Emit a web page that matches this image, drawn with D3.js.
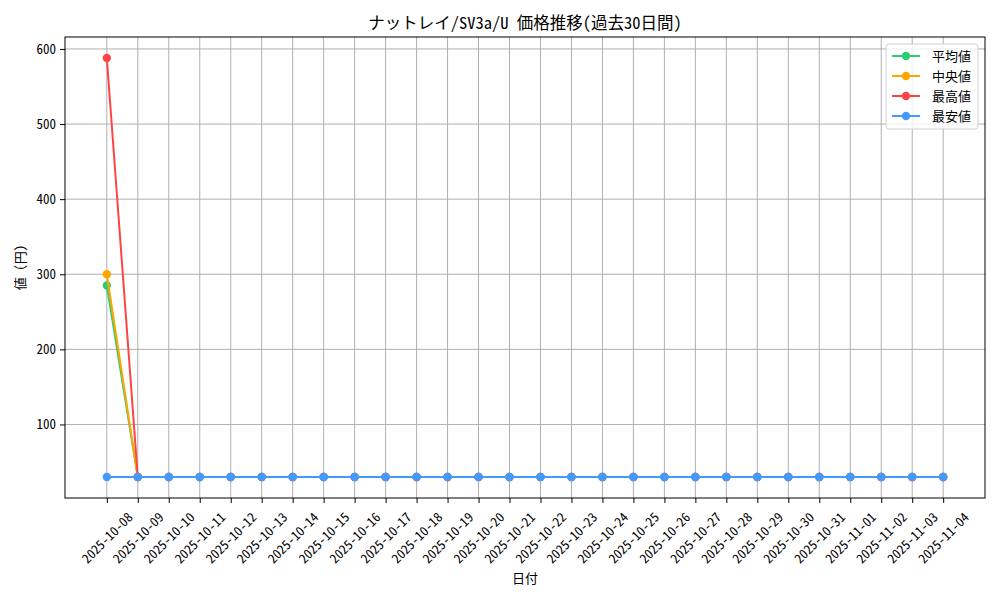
<!DOCTYPE html>
<html>
<head>
<meta charset="utf-8">
<script src="https://cdn.jsdelivr.net/npm/d3@7"></script>
<style>
  body { margin: 0; background: #fff; }
  text { font-family: "Noto Sans Mono CJK JP", "Noto Sans CJK JP", "DejaVu Sans", sans-serif; fill: #000; }
</style>
</head>
<body>
<svg width="1000" height="600"></svg>
<script>
const svg = d3.select("svg");

const dates = [
  "2025-10-08", "2025-10-09", "2025-10-10", "2025-10-11", "2025-10-12",
  "2025-10-13", "2025-10-14", "2025-10-15", "2025-10-16", "2025-10-17",
  "2025-10-18", "2025-10-19", "2025-10-20", "2025-10-21", "2025-10-22",
  "2025-10-23", "2025-10-24", "2025-10-25", "2025-10-26", "2025-10-27",
  "2025-10-28", "2025-10-29", "2025-10-30", "2025-10-31", "2025-11-01",
  "2025-11-02", "2025-11-03", "2025-11-04"
];

const rest = dates.slice(1).map(() => 30);
const avgValues = [285].concat(rest);
const medianValues = [300].concat(rest);
const maxValues = [588].concat(rest);
const minValues = [30].concat(rest);

const yTicks = [100, 200, 300, 400, 500, 600];

const series = [
  { name: "平均値", values: avgValues, color: "#2ecc71" },
  { name: "中央値", values: medianValues, color: "#ffa500" },
  { name: "最高値", values: maxValues, color: "#ff4444" },
  { name: "最安値", values: minValues, color: "#4499ff" }
];

const m = { left: 65, right: 985, top: 37, bottom: 498 };

// categorical x with matplotlib-like 5% margins
const n = dates.length;
const pad = (n - 1) * 0.05;
const x = d3.scaleLinear().domain([-pad, n - 1 + pad]).range([m.left, m.right]);

const all = series.flatMap(s => s.values);
const yMin = d3.min(all), yMax = d3.max(all);
const ypad = (yMax - yMin) * 0.05;
const y = d3.scaleLinear().domain([yMin - ypad, yMax + ypad]).range([m.bottom, m.top]);

// grid
const grid = svg.append("g").attr("stroke", "#b0b0b0").attr("stroke-width", 1);
grid.selectAll("line.vx")
  .data(dates)
  .enter()
  .append("line")
  .attr("x1", (d, i) => x(i)).attr("x2", (d, i) => x(i))
  .attr("y1", m.top).attr("y2", m.bottom);
grid.selectAll("line.hy")
  .data(yTicks)
  .enter()
  .append("line")
  .attr("x1", m.left).attr("x2", m.right)
  .attr("y1", d => y(d)).attr("y2", d => y(d));

// axes
const xAxis = svg.append("g")
  .attr("transform", `translate(0,${m.bottom})`)
  .call(d3.axisBottom(x).tickValues(d3.range(n)).tickFormat(i => dates[i]).tickSize(5).tickPadding(3));
xAxis.select(".domain").remove();
xAxis.selectAll("text")
  .attr("font-size", 13)
  .attr("text-anchor", "middle")
  .attr("y", 0)
  .attr("dy", "0.35em")
  .attr("transform", "translate(0,40) rotate(-45)");

const yAxis = svg.append("g")
  .attr("transform", `translate(${m.left},0)`)
  .call(d3.axisLeft(y).tickValues(yTicks).tickSize(5).tickPadding(4));
yAxis.select(".domain").remove();
yAxis.selectAll("text").attr("font-size", 13);
svg.selectAll(".tick line").attr("stroke", "#000");

// lines and markers
const line = d3.line().x((d, i) => x(i)).y(d => y(d));
const sg = svg.selectAll("g.series")
  .data(series)
  .enter()
  .append("g")
  .attr("class", "series");
sg.append("path")
  .attr("d", d => line(d.values))
  .attr("fill", "none")
  .attr("stroke", d => d.color)
  .attr("stroke-width", 2);
sg.selectAll("circle")
  .data(d => d.values.map(v => ({ v, color: d.color })))
  .enter()
  .append("circle")
  .attr("cx", (d, i) => x(i))
  .attr("cy", d => y(d.v))
  .attr("r", 4.2)
  .attr("fill", d => d.color);

// frame
svg.append("rect")
  .attr("x", m.left).attr("y", m.top)
  .attr("width", m.right - m.left).attr("height", m.bottom - m.top)
  .attr("fill", "none").attr("stroke", "#000").attr("stroke-width", 1);

// title and labels
svg.append("text")
  .attr("x", (m.left + m.right) / 2).attr("y", 29)
  .attr("text-anchor", "middle").attr("font-size", 16.5)
  .text("ナットレイ/SV3a/U 価格推移(過去30日間)");
svg.append("text")
  .attr("x", (m.left + m.right) / 2).attr("y", 583)
  .attr("text-anchor", "middle").attr("font-size", 13)
  .text("日付");
svg.append("text")
  .attr("transform", `translate(25,${(m.top + m.bottom) / 2}) rotate(-90)`)
  .attr("text-anchor", "middle").attr("font-size", 13)
  .text("値 (円)");

// legend
const lg = svg.append("g").attr("transform", "translate(886,44)");
lg.append("rect")
  .attr("width", 92).attr("height", 85).attr("rx", 3)
  .attr("fill", "#fff").attr("fill-opacity", 0.8)
  .attr("stroke", "#d0d0d0");
const item = lg.selectAll("g.item")
  .data(series)
  .enter()
  .append("g")
  .attr("transform", (d, i) => `translate(0,${12 + i * 20})`);
item.append("line")
  .attr("x1", 6).attr("x2", 34)
  .attr("stroke", d => d.color).attr("stroke-width", 2);
item.append("circle")
  .attr("cx", 20).attr("r", 4.2).attr("fill", d => d.color);
item.append("text")
  .attr("x", 46).attr("dy", "0.35em").attr("font-size", 13)
  .text(d => d.name);
</script>
</body>
</html>
